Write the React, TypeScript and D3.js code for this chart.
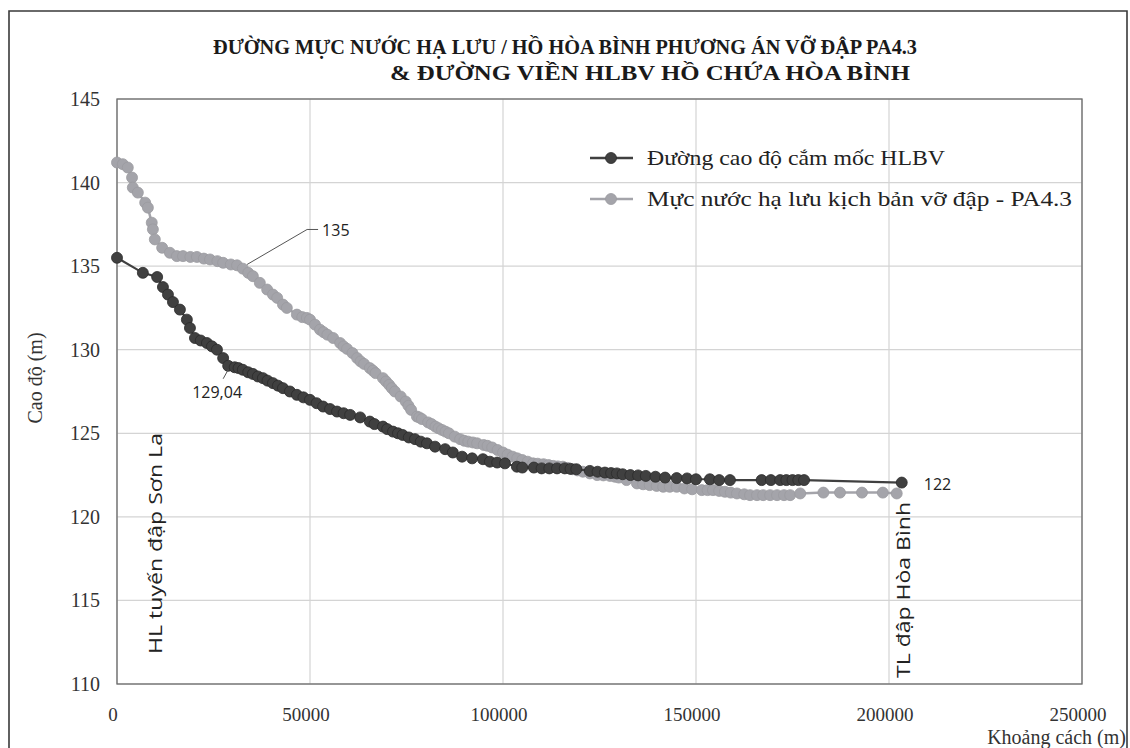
import React from "react";
import * as d3 from "d3";

const titleLines = [
  "ĐƯỜNG MỰC NƯỚC HẠ LƯU / HỒ HÒA BÌNH PHƯƠNG ÁN VỠ ĐẬP PA4.3",
  "& ĐƯỜNG VIỀN HLBV HỒ CHỨA HÒA BÌNH",
];
const seriesNames = ["Đường cao độ cắm mốc HLBV", "Mực nước hạ lưu kịch bản vỡ đập - PA4.3"];
const xTicks = [0, 50000, 100000, 150000, 200000, 250000];
const yTicks = [110, 115, 120, 125, 130, 135, 140, 145];

// [distance (m), elevation (m)]
const hlbvPoints: [number, number][] = [
  [0, 135.5], [6700, 134.6], [10400, 134.35], [11900, 133.75], [13200, 133.3], [14500, 132.85],
  [16300, 132.4], [18100, 131.8], [18900, 131.3], [20200, 130.7], [21700, 130.55], [23300, 130.4],
  [24600, 130.2], [25900, 130.0], [27500, 129.5], [28800, 129.04], [30500, 128.95], [31500, 128.9],
  [32600, 128.8], [34000, 128.65], [35200, 128.55], [36500, 128.4], [37800, 128.3], [39000, 128.15],
  [40400, 128.0], [41700, 127.85], [43000, 127.7], [44800, 127.5], [46600, 127.3], [48300, 127.15],
  [50000, 127.0], [51700, 126.8], [53400, 126.6], [55200, 126.45], [57000, 126.3], [58700, 126.2],
  [60400, 126.1], [63000, 125.95], [65500, 125.7], [66700, 125.55], [68900, 125.4], [70000, 125.25],
  [71500, 125.1], [72800, 125.0], [74000, 124.9], [75600, 124.75], [77200, 124.65], [78700, 124.5],
  [80300, 124.4], [82400, 124.2], [85000, 124.05], [87000, 123.85], [89400, 123.6], [92000, 123.5],
  [94800, 123.45], [96600, 123.3], [98500, 123.25], [100500, 123.2], [103600, 123.0], [105000, 122.95],
  [108000, 122.95], [110000, 122.9], [112000, 122.9], [114000, 122.9], [116000, 122.9], [117500, 122.87],
  [119000, 122.85], [122500, 122.75], [124500, 122.7], [126400, 122.65], [128000, 122.62], [129500, 122.6],
  [131000, 122.55], [133000, 122.5], [135000, 122.48], [137000, 122.45], [139500, 122.4], [142000, 122.35],
  [145000, 122.32], [147700, 122.3], [150000, 122.25], [153600, 122.25], [156000, 122.2], [158800, 122.2],
  [167000, 122.2], [169400, 122.2], [171800, 122.2], [173400, 122.2], [175000, 122.2], [176500, 122.2],
  [178000, 122.2], [203300, 122.05],
];

const pa43Points: [number, number][] = [
  [0, 141.2], [1500, 141.1], [2800, 140.9], [3900, 140.3], [4100, 139.7], [5400, 139.4], [7300, 138.8],
  [8000, 138.5], [9000, 137.6], [9300, 137.2], [9800, 136.6], [11700, 136.1], [13700, 135.8], [15500, 135.6],
  [17100, 135.6], [19000, 135.55], [20700, 135.55], [22500, 135.45], [24100, 135.4], [26000, 135.3],
  [27500, 135.2], [29500, 135.1], [31100, 135.05], [32600, 134.85], [34000, 134.6], [35200, 134.4],
  [37000, 134.0], [38900, 133.6], [40400, 133.3], [41500, 133.1], [43000, 132.7], [44000, 132.5],
  [46600, 132.1], [48000, 131.95], [49200, 131.9], [50000, 131.8], [51300, 131.5], [52600, 131.2],
  [53500, 131.05], [54500, 130.9], [56000, 130.7], [57800, 130.4], [58700, 130.2], [59600, 130.05],
  [61000, 129.8], [62200, 129.5], [63100, 129.3], [64000, 129.15], [65500, 128.9], [66300, 128.75],
  [67000, 128.6], [68900, 128.3], [69700, 128.1], [70500, 127.9], [71200, 127.7], [72000, 127.5],
  [73500, 127.2], [74800, 126.9], [75500, 126.65], [76200, 126.4], [77700, 126.0], [78300, 125.95],
  [79000, 125.85], [80600, 125.65], [81500, 125.55], [82500, 125.4], [83300, 125.3], [84200, 125.2],
  [85100, 125.1], [86000, 125.0], [87500, 124.8], [88900, 124.65], [90000, 124.55], [91000, 124.5],
  [92200, 124.45], [93300, 124.4], [95000, 124.3], [96000, 124.25], [97200, 124.15], [98600, 124.0],
  [100000, 123.85], [101200, 123.72], [102500, 123.6], [103700, 123.5], [105000, 123.4], [106400, 123.3],
  [107800, 123.2], [109000, 123.18], [110500, 123.15], [111800, 123.1], [113000, 123.05], [114200, 123.02],
  [115500, 123.0], [116800, 122.93], [118000, 122.85], [119300, 122.78], [120700, 122.7], [122500, 122.6],
  [124400, 122.5], [126000, 122.48], [127700, 122.45], [129000, 122.4], [130000, 122.35], [132000, 122.2],
  [134700, 122.0], [136300, 121.95], [138000, 121.9], [139800, 121.85], [141500, 121.8], [143200, 121.8],
  [145000, 121.8], [147000, 121.7], [149000, 121.65], [151500, 121.6], [153000, 121.6], [154400, 121.6],
  [156000, 121.55], [157500, 121.5], [159000, 121.45], [160600, 121.4], [162500, 121.35], [164000, 121.3],
  [165800, 121.3], [167400, 121.3], [169200, 121.3], [171000, 121.3], [172800, 121.3], [174400, 121.3],
  [177000, 121.4], [183000, 121.45], [187300, 121.45], [193000, 121.45], [198400, 121.45], [202000, 121.4],
];

// labelled points
const label135: [number, number] = [33700, 135.1];
const label129: [number, number] = [28800, 129.04];
const label122: [number, number] = [203300, 122.05];

const DARK = "#404040";
const DARK_EDGE = "#2b2b2b";
const LIGHT = "#a4a4aa";
const LIGHT_EDGE = "#9a9aa0";

export default function App() {
  const left = 117, right = 1082, top = 99, bottom = 684;
  const x = d3.scaleLinear().domain([0, 250000]).range([left, right]);
  const y = d3.scaleLinear().domain([110, 145]).range([bottom, top]);

  const line = d3.line<[number, number]>().x((d) => x(d[0])).y((d) => y(d[1]));

  const serif = "'Liberation Serif', 'Times New Roman', serif";
  const sans = "'Open Sans', 'Liberation Sans', sans-serif";

  const l135x = x(label135[0]), l135y = y(label135[1]);
  const l129x = x(label129[0]), l129y = y(label129[1]);
  const l122x = x(label122[0]), l122y = y(label122[1]);

  return (
    <svg width={1130} height={748} style={{ position: "fixed", left: 0, top: 0, background: "#fff" }}>
      <rect x={0} y={0} width={1130} height={748} fill="#fff" />
      {/* outer frame */}
      <path d="M9,760 V11 H1127 V760" fill="none" stroke="#3a3a3a" strokeWidth={1.6} />

      {/* title */}
      <text x={213} y={54} fontFamily={serif} fontWeight="bold" fontSize={20} fill="#1a1a1a" textLength={704} lengthAdjust="spacingAndGlyphs">{titleLines[0]}</text>
      <text x={390} y={80} fontFamily={serif} fontWeight="bold" fontSize={20} fill="#1a1a1a" textLength={520} lengthAdjust="spacingAndGlyphs">{titleLines[1]}</text>

      {/* gridlines */}
      {yTicks.map((t) => (
        <line key={"gy" + t} x1={left} x2={right} y1={y(t)} y2={y(t)} stroke="#d4d4d4" strokeWidth={1.2} />
      ))}
      {xTicks.map((t) => (
        <line key={"gx" + t} x1={x(t)} x2={x(t)} y1={top} y2={bottom} stroke="#d4d4d4" strokeWidth={1.2} />
      ))}
      <rect x={left} y={top} width={right - left} height={bottom - top} fill="none" stroke="#6a6a6a" strokeWidth={1.3} />

      {/* y tick labels */}
      {yTicks.map((t) => (
        <text key={"ly" + t} x={100} y={y(t)} dy="0.35em" textAnchor="end" fontFamily={serif} fontSize={20} fill="#333">{t}</text>
      ))}
      {/* x tick labels */}
      {xTicks.map((t) => (
        <text key={"lx" + t} x={x(t) - 4} y={721} textAnchor="middle" fontFamily={serif} fontSize={19} fill="#333">{t}</text>
      ))}
      <text x={1126} y={744} textAnchor="end" fontFamily={serif} fontSize={20} fill="#333">Khoảng cách (m)</text>
      <text transform="translate(42,378) rotate(-90)" textAnchor="middle" fontFamily={serif} fontSize={20} fill="#333">Cao độ (m)</text>

      {/* vertical annotations */}
      <text transform="translate(162,654) rotate(-90)" fontFamily={sans} fontSize={18} fill="#222" textLength={221} lengthAdjust="spacingAndGlyphs">HL tuyến đập Sơn La</text>
      <text transform="translate(910,678) rotate(-90)" fontFamily={sans} fontSize={18} fill="#222" textLength={176} lengthAdjust="spacingAndGlyphs">TL đập Hòa Bình</text>

      {/* series: light */}
      <path d={line(pa43Points) || ""} fill="none" stroke={LIGHT} strokeWidth={2.5} />
      {pa43Points.map((d, i) => (
        <circle key={"pl" + i} cx={x(d[0])} cy={y(d[1])} r={5.5} fill={LIGHT} stroke={LIGHT_EDGE} strokeWidth={0.8} />
      ))}
      {/* series: dark */}
      <path d={line(hlbvPoints) || ""} fill="none" stroke={DARK} strokeWidth={2.2} />
      {hlbvPoints.map((d, i) => (
        <circle key={"pd" + i} cx={x(d[0])} cy={y(d[1])} r={5.5} fill={DARK} stroke={DARK_EDGE} strokeWidth={0.8} />
      ))}

      {/* data labels */}
      <polyline points={`${l135x},${l135y} ${l135x + 60},${l135y - 35} ${l135x + 71},${l135y - 35}`} fill="none" stroke="#555" strokeWidth={1} />
      <text x={l135x + 75} y={l135y - 28} fontFamily={sans} fontSize={16} fill="#222">135</text>
      <line x1={l129x} y1={l129y + 4} x2={l129x - 5} y2={l129y + 13} stroke="#555" strokeWidth={1} />
      <text x={l129x - 36} y={l129y + 32} fontFamily={sans} fontSize={16} fill="#222">129,04</text>
      <text x={l122x + 22} y={l122y + 7} fontFamily={sans} fontSize={16} fill="#222">122</text>

      {/* legend */}
      <line x1={590} x2={633} y1={158} y2={158} stroke={DARK} strokeWidth={2.5} />
      <circle cx={611} cy={158} r={5.5} fill={DARK} stroke={DARK_EDGE} strokeWidth={0.8} />
      <text x={647} y={165} fontFamily={serif} fontSize={21} fill="#222" textLength={298} lengthAdjust="spacingAndGlyphs">{seriesNames[0]}</text>
      <line x1={590} x2={633} y1={199} y2={199} stroke={LIGHT} strokeWidth={2.5} />
      <circle cx={611} cy={199} r={5.5} fill={LIGHT} stroke={LIGHT_EDGE} strokeWidth={0.8} />
      <text x={647} y={206} fontFamily={serif} fontSize={21} fill="#222" textLength={425} lengthAdjust="spacingAndGlyphs">{seriesNames[1]}</text>
    </svg>
  );
}
